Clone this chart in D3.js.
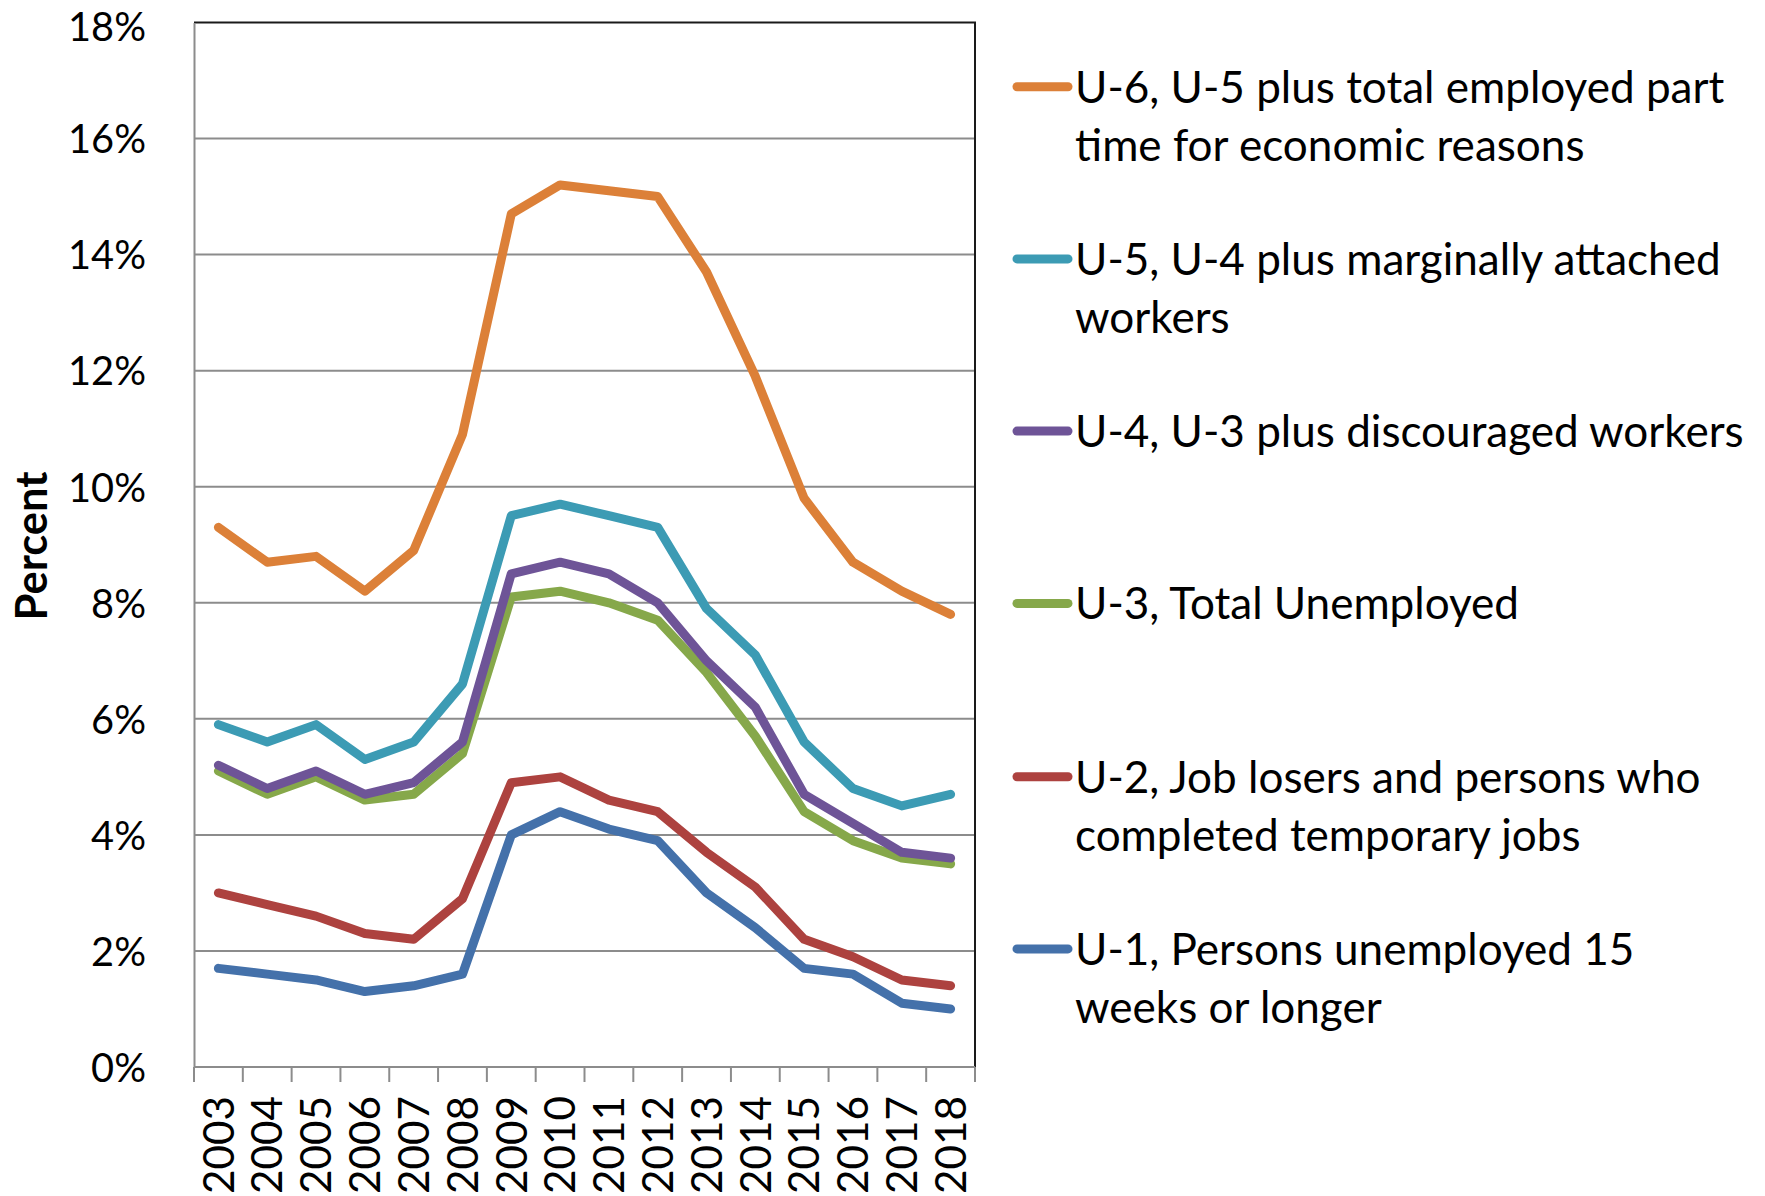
<!DOCTYPE html>
<html><head><meta charset="utf-8">
<script src="https://cdn.jsdelivr.net/npm/d3@7"></script>
<style>html,body{margin:0;padding:0;background:#fff;}svg{display:block;}</style>
</head><body>
<svg id="chart" width="1765" height="1196"></svg>
<script>
const years = ["2003","2004","2005","2006","2007","2008","2009","2010","2011","2012","2013","2014","2015","2016","2017","2018"];
const u6 = [9.3, 8.7, 8.8, 8.2, 8.9, 10.9, 14.7, 15.2, 15.1, 15.0, 13.7, 11.9, 9.8, 8.7, 8.2, 7.8];
const u5 = [5.9, 5.6, 5.9, 5.3, 5.6, 6.6, 9.5, 9.7, 9.5, 9.3, 7.9, 7.1, 5.6, 4.8, 4.5, 4.7];
const u4 = [5.2, 4.8, 5.1, 4.7, 4.9, 5.6, 8.5, 8.7, 8.5, 8.0, 7.0, 6.2, 4.7, 4.2, 3.7, 3.6];
const u3 = [5.1, 4.7, 5.0, 4.6, 4.7, 5.4, 8.1, 8.2, 8.0, 7.7, 6.8, 5.7, 4.4, 3.9, 3.6, 3.5];
const u2 = [3.0, 2.8, 2.6, 2.3, 2.2, 2.9, 4.9, 5.0, 4.6, 4.4, 3.7, 3.1, 2.2, 1.9, 1.5, 1.4];
const u1 = [1.7, 1.6, 1.5, 1.3, 1.4, 1.6, 4.0, 4.4, 4.1, 3.9, 3.0, 2.4, 1.7, 1.6, 1.1, 1.0];
const seriesNames = [
  ["U-6, U-5 plus total employed part", "time for economic reasons"],
  ["U-5, U-4 plus marginally attached", "workers"],
  ["U-4, U-3 plus discouraged workers"],
  ["U-3, Total Unemployed"],
  ["U-2, Job losers and persons who", "completed temporary jobs"],
  ["U-1, Persons unemployed 15", "weeks or longer"]
];
const seriesValues = [u6, u5, u4, u3, u2, u1];
const seriesColors = ["#DC8038", "#3C9BB4", "#6E5497", "#86A84A", "#AD423F", "#4471AA"];
const yTicks = [0, 2, 4, 6, 8, 10, 12, 14, 16, 18];
const yTitle = "Percent";

const FONT = "Lato, 'Open Sans', sans-serif";
const svg = d3.select("#chart");
const L = 194, R = 975, T = 22.5, B = 1067;

function fitSize(txt, target, weight) {
  const t = svg.append("text").attr("font-family", FONT).attr("font-size", 100)
    .attr("font-weight", weight || "normal").text(txt);
  const w = t.node().getComputedTextLength();
  t.remove();
  return 100 * target / w;
}
const tickSize = fitSize("18%", 78);
const yearSize = fitSize("2003", 98);
const legSize = fitSize("U-4, U-3 plus discouraged workers", 669);
const titleSize = fitSize("Percent", 149, "bold");

const x = d3.scaleBand().domain(years).range([L, R]).padding(0);
const y = d3.scaleLinear().domain([0, 18]).range([B, T]);

svg.append("g").selectAll("line").data(yTicks.filter(d => d > 0 && d < 18)).join("line")
  .attr("x1", L).attr("x2", R).attr("y1", d => y(d)).attr("y2", d => y(d))
  .attr("stroke", "#8c8c8c").attr("stroke-width", 2);

svg.append("line").attr("x1", L).attr("x2", R + 1).attr("y1", y(18)).attr("y2", y(18)).attr("stroke", "#1a1a1a").attr("stroke-width", 2);
svg.append("line").attr("x1", R).attr("x2", R).attr("y1", y(18)).attr("y2", y(0)).attr("stroke", "#1a1a1a").attr("stroke-width", 2);

const yAxis = svg.append("g").attr("transform", `translate(${L},0)`)
  .call(d3.axisLeft(y).tickValues(yTicks).tickFormat(d => d + "%").tickSize(0).tickPadding(48));
yAxis.select(".domain").attr("stroke", "#8c8c8c").attr("stroke-width", 2);
yAxis.selectAll("text").attr("font-family", FONT).attr("font-size", tickSize).attr("fill", "#000").attr("dy", "0.36em");
// keep the top label's box inside the page
yAxis.selectAll(".tick").filter(d => d === 18).select("text").attr("y", 4);

svg.append("line").attr("x1", L).attr("x2", R).attr("y1", B).attr("y2", B).attr("stroke", "#8c8c8c").attr("stroke-width", 2);
const bounds = years.map(d => x(d)).concat([x(years[years.length - 1]) + x.bandwidth()]);
svg.append("g").selectAll("line").data(bounds).join("line")
  .attr("x1", d => d).attr("x2", d => d).attr("y1", B).attr("y2", B + 15)
  .attr("stroke", "#8c8c8c").attr("stroke-width", 2);
svg.append("g").selectAll("text").data(years).join("text")
  .attr("transform", d => `translate(${x(d) + x.bandwidth() / 2},1096) rotate(-90)`)
  .attr("text-anchor", "end").attr("dy", "0.36em")
  .attr("font-family", FONT).attr("font-size", yearSize).attr("fill", "#000").text(d => d);

svg.append("text").attr("transform", `translate(31,546) rotate(-90)`)
  .attr("text-anchor", "middle").attr("dy", "0.36em")
  .attr("font-family", FONT).attr("font-weight", "bold").attr("font-size", titleSize).text(yTitle);

const line = d3.line().x((d, i) => x(years[i]) + x.bandwidth() / 2).y(d => y(d));
const order = [5, 4, 3, 2, 1, 0];
svg.append("g").selectAll("path").data(order).join("path")
  .attr("d", i => line(seriesValues[i]))
  .attr("fill", "none").attr("stroke", i => seriesColors[i]).attr("stroke-width", 9)
  .attr("stroke-linejoin", "round").attr("stroke-linecap", "round");

const legY = [86.7, 258.9, 431.1, 603.4, 776.7, 948.9];
const leg = svg.append("g").selectAll("g").data(seriesNames).join("g")
  .attr("transform", (d, i) => `translate(0,${legY[i]})`);
leg.append("line").attr("x1", 1017).attr("x2", 1068).attr("y1", 0).attr("y2", 0)
  .attr("stroke", (d, i) => seriesColors[i]).attr("stroke-width", 9).attr("stroke-linecap", "round");
leg.each(function(lines) {
  const g = d3.select(this);
  lines.forEach((t, k) => {
    g.append("text").attr("x", 1075).attr("y", k * 58.5).attr("dy", "0.36em")
      .attr("font-family", FONT).attr("font-size", legSize).attr("fill", "#000").text(t);
  });
});
</script>
</body></html>
